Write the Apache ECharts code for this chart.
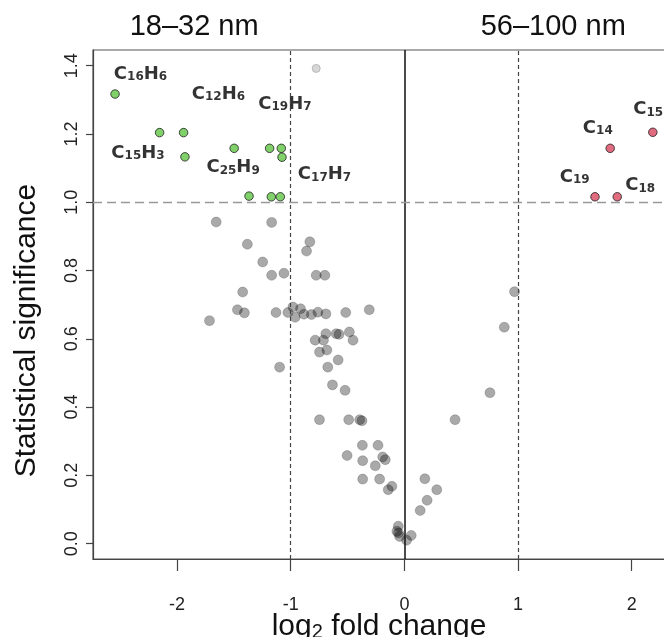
<!DOCTYPE html>
<html><head><meta charset="utf-8">
<script src="https://cdn.jsdelivr.net/npm/echarts@6/dist/echarts.min.js"></script>
<style>html,body{margin:0;padding:0;background:#fff}#c{width:664px;height:637px}</style>
</head><body><div id="c"></div>
<script>
// ---- data (log2 fold change, statistical significance) ----
const grayPoints = [
  [-1.656,0.942],[-1.168,0.941],[-1.382,0.877],[-0.832,0.884],[-0.861,0.857],[-1.247,0.825],
  [-1.168,0.786],[-1.060,0.792],[-0.776,0.786],[-0.700,0.786],[-1.423,0.737],[-1.469,0.685],
  [-1.408,0.676],[-1.715,0.653],[-1.130,0.677],[-1.025,0.677],[-0.981,0.693],[-0.961,0.663],
  [-0.914,0.688],[-0.884,0.672],[-0.818,0.671],[-0.761,0.678],[-0.691,0.673],[-0.516,0.677],
  [-0.309,0.685],[-0.691,0.615],[-0.600,0.615],[-0.575,0.613],[-0.484,0.620],[-0.785,0.596],
  [-0.712,0.596],[-0.452,0.596],[-0.747,0.561],[-0.682,0.567],[-0.583,0.538],[-1.098,0.517],
  [-0.674,0.517],[-0.633,0.465],[-0.522,0.449],
  [0.753,0.442],[-0.747,0.363],[-0.490,0.363],[-0.393,0.363],[-0.373,0.360],[0.446,0.363],
  [-0.370,0.288],[-0.232,0.288],[-0.504,0.258],[-0.367,0.243],[-0.191,0.254],[-0.168,0.246],
  [-0.256,0.228],[-0.367,0.189],[-0.218,0.189],[0.180,0.190],[-0.110,0.168],[-0.142,0.158],
  [0.285,0.158],[0.200,0.127],[0.139,0.097],[-0.054,0.051],[-0.066,0.036],[-0.051,0.031],
  [-0.042,0.021],[0.060,0.024],[0.019,0.010],
  [0.969,0.738],[0.879,0.634]
];
const fadedPoints = [[-0.776,1.392]];
const greenPoints = [
  [-2.546,1.317],[-2.154,1.204],[-1.943,1.204],[-1.931,1.133],[-1.498,1.158],[-1.186,1.158],
  [-1.083,1.158],[-1.077,1.132],[-1.367,1.018],[-1.171,1.016],[-1.092,1.016]
];
const redPoints = [[2.186,1.205],[1.811,1.158],[1.677,1.016],[1.873,1.016]];

const greenLabels = ['C16H6','C12H6','C19H7','C15H3','C25H9','C17H7'];
const greenLabelX = [-2.322,-1.636,-1.051,-2.344,-1.507,-0.703];
const greenLabelY = [1.375,1.317,1.287,1.144,1.101,1.081];
const redLabels = ['C15','C14','C19','C18'];
const redLabelX = [2.145,1.702,1.498,2.075];
const redLabelY = [1.272,1.218,1.073,1.049];

const xTicks = [-2,-1,0,1,2];
const yTicks = [0,0.2,0.4,0.6,0.8,1.0,1.2,1.4];
const xRange = [-2.74, 2.39];
const yRange = [-0.045, 1.446];
const foldThresholds = [-1, 1];
const sigThreshold = 1.0;
const groupTitles = ['18–32 nm','56–100 nm'];
const groupTitleX = [-1.85, 1.31];

// ---- chart ----
const SANS = 'Liberation Sans';
const LBL = 'DejaVu Sans';
const toRich = s => s.replace(/([A-Z])/g,'{m|$1}').replace(/(\d+)/g,'{s|$1}');
const labelData = (names, xs, ys) => names.map((n,i)=>({name:n, value:[xs[i], ys[i]]}));

const chart = echarts.init(document.getElementById('c'), null, {renderer:'canvas'});
const gridLeft = 93, gridTop = 50, gridW = 583, gridH = 509;
const xPix = v => gridLeft + (v - xRange[0]) / (xRange[1]-xRange[0]) * gridW;

const option = {
  animation: false,
  backgroundColor: '#fff',
  grid: {left: gridLeft, top: gridTop, width: gridW, height: gridH, show: true,
         outerBoundsMode: 'none', containLabel: false,
         borderColor: '#555', borderWidth: 1.2},
  graphic: groupTitles.map((t,i)=>({
    type:'text', x: xPix(groupTitleX[i]), y: 26.7, z: 10,
    style:{text:t, fontSize:29, fontFamily:SANS, fill:'#111',
           align:'center', verticalAlign:'middle', textAlign:'center', textVerticalAlign:'middle'}
  })),
  xAxis: {
    type:'value', min:xRange[0], max:xRange[1],
    splitLine:{show:false},
    axisLine:{show:true, onZero:false, lineStyle:{color:'#444', width:1.2}},
    axisTick:{show:true, length:12, customValues:xTicks, lineStyle:{color:'#444', width:1.2}},
    axisLabel:{customValues:xTicks, margin:37, fontSize:18, fontFamily:SANS, color:'#222',
               formatter: v => String(v)},
    name:'{a|log}{s|2}{a| fold change}', nameLocation:'middle', nameGap:53, nameMoveOverlap:false,
    nameTextStyle:{padding:[0,11,0,0], rich:{
      a:{fontSize:30, fontFamily:SANS, color:'#111', lineHeight:30, verticalAlign:'bottom'},
      s:{fontSize:20, fontFamily:SANS, color:'#111', lineHeight:13, verticalAlign:'bottom'}
    }}
  },
  yAxis: {
    type:'value', min:yRange[0], max:yRange[1],
    splitLine:{show:false},
    axisLine:{show:true, onZero:false, lineStyle:{color:'#444', width:1.2}},
    axisTick:{show:true, length:7, customValues:yTicks, lineStyle:{color:'#444', width:1.2}},
    axisLabel:{customValues:yTicks, rotate:90, margin:12, fontSize:18, fontFamily:SANS, color:'#222',
               formatter: v => v.toFixed(1)},
    name:'Statistical significance', nameLocation:'middle', nameGap:51, nameMoveOverlap:false,
    nameTextStyle:{fontSize:30, fontFamily:SANS, color:'#111', padding:[0,52,0,0]}
  },
  series: [
    {
      type:'scatter', name:'lines', data:[], z:1, silent:true,
      markLine:{
        silent:true, symbol:['none','none'], label:{show:false}, animation:false,
        data:[
          ...foldThresholds.map(v=>({xAxis:v, lineStyle:{type:[4,3], color:'#444', width:1.2}})),
          {xAxis:0, lineStyle:{type:'solid', color:'#111', width:1.5}},
          {yAxis:sigThreshold, lineStyle:{type:[9,5], color:'#999', width:1.4}}
        ]
      }
    },
    {
      type:'scatter', name:'ns', data:grayPoints, z:2, symbolSize:10,
      itemStyle:{color:'rgba(0,0,0,0.42)', borderColor:'rgba(0,0,0,0.22)', borderWidth:1}
    },
    {
      type:'scatter', name:'faded', data:fadedPoints, z:2, symbolSize:8,
      itemStyle:{color:'#cdcdcd', borderColor:'#adadad', borderWidth:1}
    },
    {
      type:'scatter', name:'small', data:greenPoints, z:3, symbolSize:8.5,
      itemStyle:{color:'#62c646', borderColor:'#1e1e1e', borderWidth:1}
    },
    {
      type:'scatter', name:'large', data:redPoints, z:3, symbolSize:8.5,
      itemStyle:{color:'#d9465f', borderColor:'#1e1e1e', borderWidth:1}
    },
    {
      type:'scatter', name:'labels', z:4, symbolSize:1, silent:true,
      itemStyle:{color:'rgba(0,0,0,0)'},
      data: labelData(greenLabels, greenLabelX, greenLabelY).concat(labelData(redLabels, redLabelX, redLabelY)),
      label:{show:true, position:'inside', formatter: p => toRich(p.name),
        rich:{
          m:{fontSize:18, fontFamily:LBL, fontWeight:'bold', color:'#000', lineHeight:18, verticalAlign:'bottom'},
          s:{fontSize:12, fontFamily:LBL, fontWeight:'bold', color:'#000', lineHeight:12, verticalAlign:'bottom'}
        }}
    }
  ]
};
chart.setOption(option);
</script></body></html>
